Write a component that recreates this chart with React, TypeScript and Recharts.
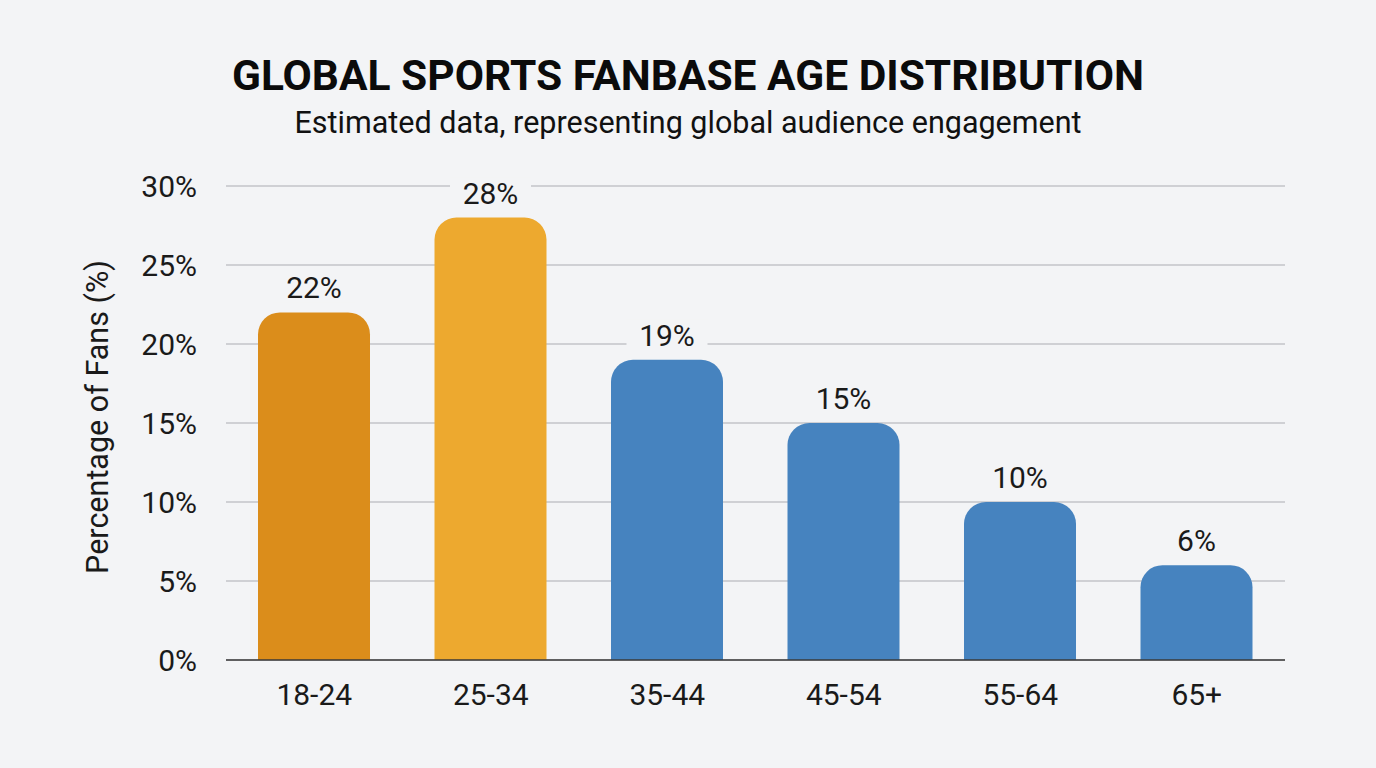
import React from 'react';
import { BarChart, Bar, XAxis, YAxis, CartesianGrid, LabelList, Cell } from 'recharts';

const categories = ['18-24', '25-34', '35-44', '45-54', '55-64', '65+'];
const shares = [22, 28, 19, 15, 10, 6];
const barColors = ['#DB8D1B', '#EDA92F', '#4683BF', '#4683BF', '#4683BF', '#4683BF'];
const yTicks = [0, 5, 10, 15, 20, 25, 30];

const data = categories.map((c, i) => ({ age: c, value: shares[i] }));

const FONT = 'Roboto, "Noto Sans", sans-serif';
const BG = '#F3F4F6';

function ValueLabel(props: any) {
  const { x, y, width, value } = props;
  const cx = Number(x) + Number(width) / 2;
  const baseline = Number(y) - 14;
  const txt = `${value}%`;
  const w = txt.length * 17 + 30;
  return (
    <g>
      <rect x={cx - w / 2} y={baseline - 26} width={w} height={30} fill={BG} />
      <text x={cx} y={baseline} textAnchor="middle" fontSize={30} fill="#1A1A1A" fontFamily={FONT}>
        {txt}
      </text>
    </g>
  );
}

export default function App() {
  return (
    <div style={{ position: 'absolute', left: 0, top: 0, width: 1376, height: 768, background: BG, fontFamily: FONT, overflow: 'hidden' }}>
      <div style={{ position: 'absolute', left: 0, top: 51, width: 1376, textAlign: 'center', fontSize: 42.5, fontWeight: 700, color: '#0B0B0B', lineHeight: '50px' }}>
        GLOBAL SPORTS FANBASE AGE DISTRIBUTION
      </div>
      <div style={{ position: 'absolute', left: 0, top: 104, width: 1376, textAlign: 'center', fontSize: 30.5, fontWeight: 400, color: '#111', lineHeight: '38px' }}>
        Estimated data, representing global audience engagement
      </div>
      <div style={{ position: 'absolute', left: 0, top: 0 }}>
        <BarChart width={1376} height={768} data={data} margin={{ top: 186, right: 91, bottom: 68, left: 0 }}>
          <CartesianGrid vertical={false} stroke="#C3C5C9" strokeWidth={1.3} />
          <XAxis
            dataKey="age"
            height={40}
            axisLine={{ stroke: '#3A3A3A', strokeWidth: 1.6 }}
            tickLine={false}
            tickMargin={18}
            tick={{ fontSize: 30, fill: '#1A1A1A', fontFamily: FONT }}
          />
          <YAxis
            width={226}
            domain={[0, 30]}
            ticks={yTicks}
            tickFormatter={(v) => `${v}%`}
            axisLine={false}
            tickLine={false}
            tickMargin={23}
            tick={{ fontSize: 30, fill: '#1A1A1A', fontFamily: FONT }}
            label={{ value: 'Percentage of Fans (%)', angle: -90, position: 'insideLeft', dx: 92, dy: -6, style: { textAnchor: 'middle', fontSize: 30.5, fill: '#1A1A1A', fontFamily: FONT } }}
          />
          <Bar dataKey="value" barSize={112} radius={[22, 22, 0, 0]} isAnimationActive={false}>
            {data.map((d, i) => (
              <Cell key={d.age} fill={barColors[i]} />
            ))}
            <LabelList dataKey="value" content={ValueLabel} />
          </Bar>
        </BarChart>
      </div>
    </div>
  );
}
